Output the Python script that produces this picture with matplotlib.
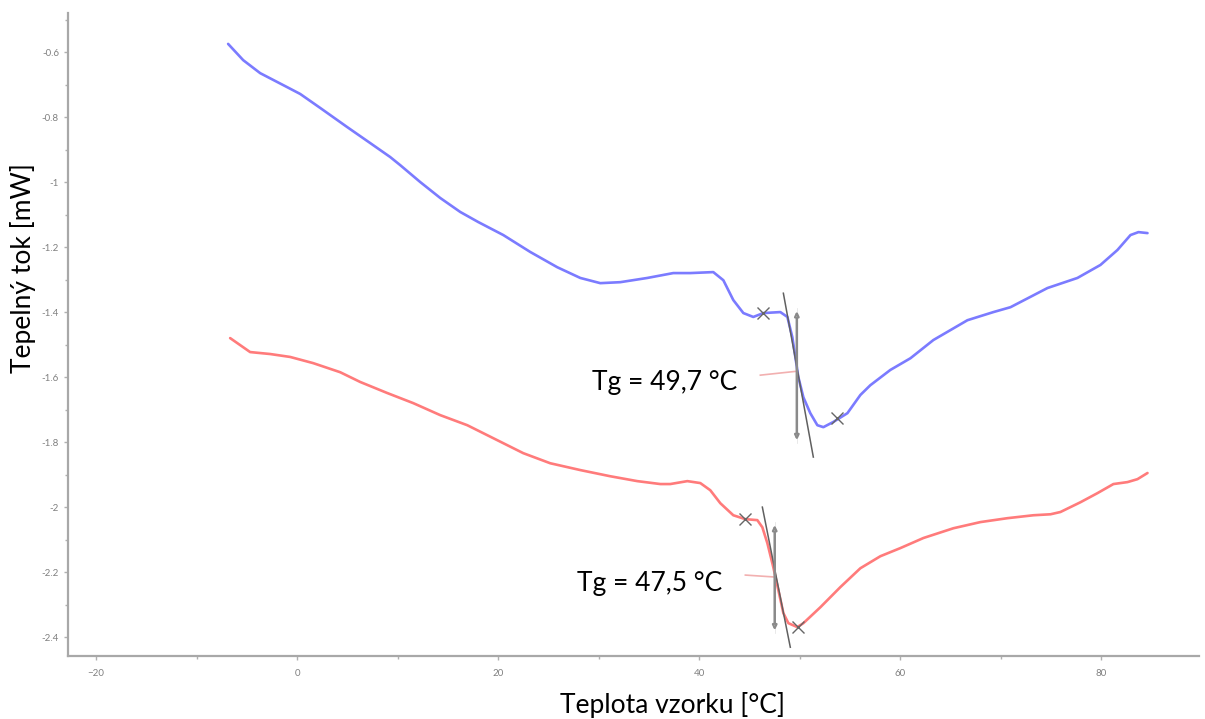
import matplotlib
matplotlib.use("Agg")
import matplotlib.pyplot as plt
from matplotlib.ticker import MultipleLocator

plt.rcParams['font.family'] = ['Lato', 'DejaVu Sans']

# DSC krivky - tepelny tok vs. teplota
t_modra = [-6.87, -5.37, -3.68, -1.0, 0.30, 2.29, 4.98, 7.26, 9.25, 10.25, 12.24, 14.23,
           16.22, 18.01, 20.50, 23.18, 25.87, 28.16, 30.15, 32.14, 34.83, 37.41, 39.10,
           41.39, 42.39, 43.38, 44.38, 45.37, 46.37, 48.06, 48.76, 49.25, 49.55, 49.85,
           50.35, 51.04, 51.74, 52.34, 53.33, 54.73, 56.02, 57.01, 59.00, 61.00, 63.28,
           66.67, 69.25, 70.95, 74.63, 77.61, 79.90, 81.59, 82.89, 83.68, 84.58]
q_modra = [-0.575, -0.625, -0.665, -0.708, -0.729, -0.772, -0.831, -0.880, -0.923, -0.948,
           -1.000, -1.049, -1.092, -1.123, -1.163, -1.215, -1.262, -1.295, -1.311, -1.308,
           -1.295, -1.280, -1.280, -1.277, -1.302, -1.363, -1.403, -1.415, -1.403, -1.400,
           -1.415, -1.477, -1.538, -1.600, -1.662, -1.711, -1.748, -1.754, -1.738, -1.711,
           -1.655, -1.625, -1.578, -1.542, -1.486, -1.425, -1.400, -1.385, -1.326, -1.295,
           -1.255, -1.209, -1.163, -1.154, -1.157]

t_cervena = [-6.67, -4.68, -2.69, -0.70, 1.59, 4.28, 6.27, 8.96, 11.54, 14.23, 16.92, 19.90,
             22.49, 25.17, 28.16, 31.14, 33.83, 36.12, 37.11, 38.81, 40.10, 41.09, 42.09,
             43.38, 44.58, 45.77, 46.27, 46.77, 47.36, 47.86, 48.36, 48.86, 49.75, 50.35,
             52.04, 54.03, 56.02, 58.01, 60.00, 62.29, 65.27, 67.96, 70.65, 73.23, 74.93,
             75.92, 77.91, 79.60, 81.19, 82.59, 83.58, 84.58]
q_cervena = [-1.480, -1.523, -1.529, -1.538, -1.557, -1.585, -1.615, -1.649, -1.680, -1.717,
             -1.748, -1.794, -1.834, -1.865, -1.886, -1.905, -1.920, -1.929, -1.929, -1.920,
             -1.926, -1.948, -1.988, -2.025, -2.037, -2.040, -2.062, -2.111, -2.185, -2.255,
             -2.326, -2.357, -2.369, -2.357, -2.308, -2.246, -2.188, -2.151, -2.126, -2.095,
             -2.065, -2.046, -2.034, -2.025, -2.022, -2.015, -1.985, -1.957, -1.929, -1.923,
             -1.914, -1.895]

# vyhodnoceni skelneho prechodu: Tg, meze, tecna, pomocna cara
tg = [49.7, 47.5]
tg_popisky = ['Tg = 49,7 °C', 'Tg = 47,5 °C']
meze_t = [[46.37, 53.73], [44.58, 49.85]]
meze_q = [[-1.403, -1.726], [-2.037, -2.369]]
tecna_t = [[48.36, 51.34], [46.27, 49.05]]
tecna_q = [[-1.342, -1.846], [-2.000, -2.431]]
sipka_q = [[-1.388, -1.803], [-2.046, -2.388]]
pomocna_t = [46.07, 44.58]
pomocna_q = [[-1.594, -1.582], [-2.209, -2.215]]
popisek_t = [43.8, 42.3]
popisek_q = [-1.618, -2.234]

x_ticks = [-20, 0, 20, 40, 60, 80]
y_ticks = [-0.6, -0.8, -1, -1.2, -1.4, -1.6, -1.8, -2, -2.2, -2.4]
y_tick_labels = ['-0.6', '-0.8', '-1', '-1.2', '-1.4', '-1.6', '-1.8', '-2', '-2.2', '-2.4']

fig = plt.figure(figsize=(12.05, 7.19), dpi=100)
ax = fig.add_axes([0.0564, 0.0876, 0.9386, 0.8943])

ax.plot(t_modra, q_modra, color='#7b7bff', lw=1.9, solid_capstyle='round', solid_joinstyle='round')
ax.plot(t_cervena, q_cervena, color='#ff7b7b', lw=1.9, solid_capstyle='round', solid_joinstyle='round')

for i in range(2):
    ax.plot([pomocna_t[i], tg[i]], pomocna_q[i], color='#f2b0b0', lw=1.2)
    ax.plot(tecna_t[i], tecna_q[i], color='#606060', lw=1.1)
    ax.annotate('', xy=(tg[i], sipka_q[i][0]), xytext=(tg[i], sipka_q[i][1]),
                arrowprops=dict(arrowstyle='<|-|>,head_length=0.25,head_width=0.12',
                                color='#8a8a8a', lw=1.8, fc='white'))
    ax.plot([tg[i], tg[i]], sipka_q[i], color='#e0e0e0', lw=0.5)
    ax.plot(meze_t[i], meze_q[i], ls='none', marker='x', ms=8, mew=1.0, color='#666666')
    ax.text(popisek_t[i], popisek_q[i], tg_popisky[i], ha='right', va='center', fontsize=19)

ax.set_xlim(-22.8, 89.7)
ax.set_ylim(-2.458, -0.48)
ax.set_xticks(x_ticks)
ax.xaxis.set_minor_locator(MultipleLocator(10))
ax.set_yticks(y_ticks)
ax.set_yticklabels(y_tick_labels)
ax.yaxis.set_minor_locator(MultipleLocator(0.1))

for s in ['top', 'right']:
    ax.spines[s].set_visible(False)
for s in ['left', 'bottom']:
    ax.spines[s].set_color('#a8a8a8')
    ax.spines[s].set_linewidth(1.6)
ax.tick_params(which='both', direction='out', color='#b0b0b0', labelcolor='#808080',
               labelsize=7, length=3, width=1)
ax.tick_params(which='minor', length=2)
ax.tick_params(axis='x', pad=6)

fig.text(0.558, 0.02, 'Teplota vzorku [°C]', ha='center', va='center', fontsize=19)
fig.text(0.019, 0.627, 'Tepelný tok [mW]', ha='center', va='center', rotation=90, fontsize=19)

fig.savefig('out.png', dpi=100)
